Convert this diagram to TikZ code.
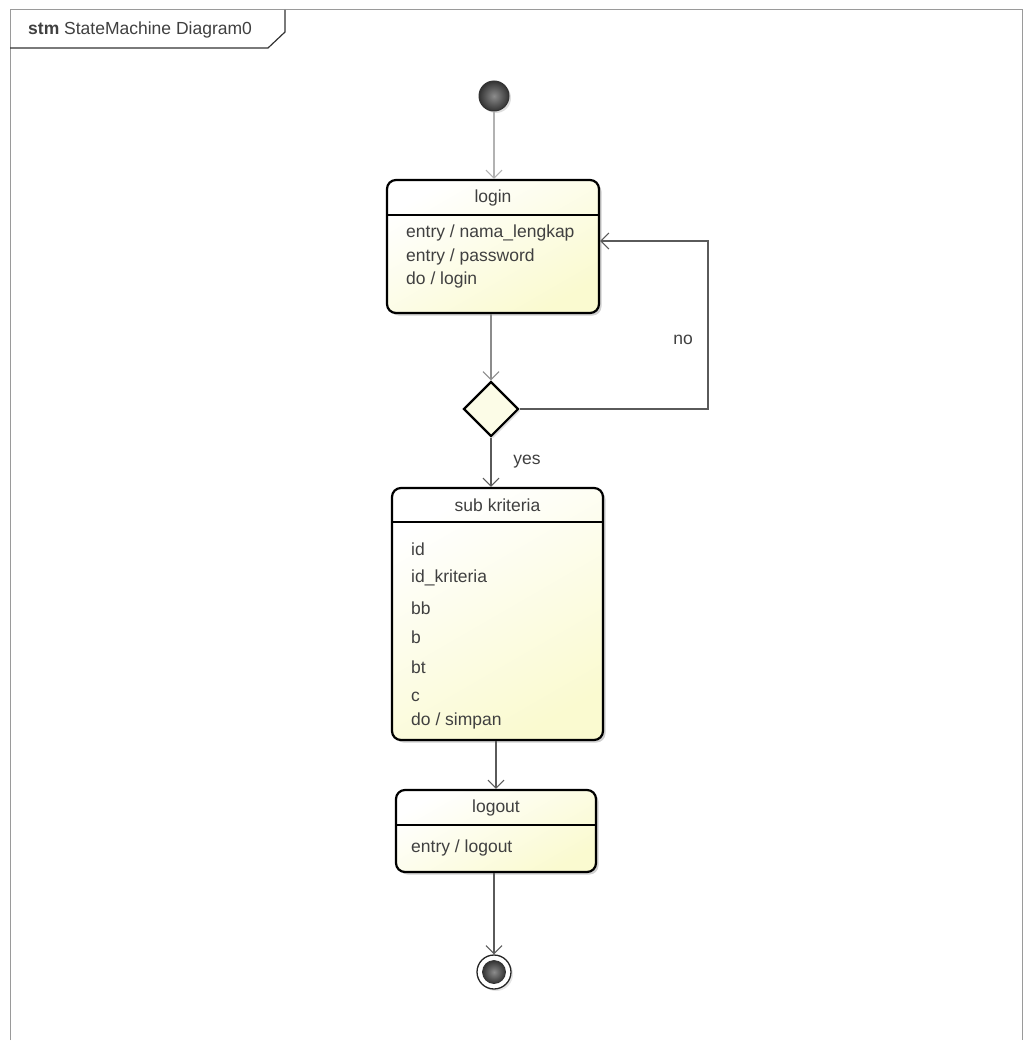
\documentclass[tikz,border=0pt]{standalone}
\usepackage{fontspec}
\setmainfont{Liberation Sans}
\usetikzlibrary{arrows.meta,shapes.geometric,shadows}
\definecolor{ylw}{HTML}{FAFAD0}
\definecolor{framegray}{HTML}{9A9A9A}
\definecolor{linegray}{HTML}{5A5A5A}
\begin{document}
\begin{tikzpicture}[x=1pt,y=-1pt,
  txt/.style={font=\fontsize{17.5}{19}\selectfont, text=black!75, inner sep=0pt},
  statebox/.style={draw=black, line width=2.2pt, rounded corners=9pt,
    top color=white, bottom color=ylw, shading angle=30,
    drop shadow={shadow xshift=2.5pt, shadow yshift=-2.5pt, fill=black!30, opacity=0.6}},
  flow/.style={draw=linegray, line width=1.1pt, -{Straight Barb[length=8pt,width=16pt]}},
  sepline/.style={draw=black, line width=1.1pt}
]
\useasboundingbox (0,0) rectangle (1030,1041);
\fill[white] (0,0) rectangle (1030,1041);
% frame
\draw[framegray, line width=1pt] (10,1040) -- (10,10) -- (1022,10) -- (1022,1040);
\draw[black!80, line width=1.2pt] (10,48) -- (268,48) -- (285,32) -- (285,10);
\node[txt, anchor=west] (title) at (28,30) {\textbf{stm} StateMachine Diagram0};

% initial
\node[circle, minimum size=30pt, inner sep=0pt, draw=black!80, line width=1pt,
  inner color=black!45, outer color=black!80,
  drop shadow={shadow xshift=2pt, shadow yshift=-2pt, fill=black!25}] (init) at (494,96) {};

% login
\node[statebox, minimum width=212pt, minimum height=133pt] (login) at (493,246.5) {};
\draw[sepline] (387,215) -- (599,215);
\node[txt] (logint) at (493,198) {login};
\node[txt, anchor=west] (l1) at (406,233) {entry / nama\_lengkap};
\node[txt, anchor=west] (l2) at (406,257) {entry / password};
\node[txt, anchor=west] (l3) at (406,280) {do / login};

% decision
\node[diamond, draw=black, line width=2.2pt, fill=ylw!50, minimum width=55pt, minimum height=55pt, inner sep=0pt,
  drop shadow={shadow xshift=2pt, shadow yshift=-2pt, fill=black!25}] (dec) at (491,409) {};

% sub kriteria
\node[statebox, minimum width=211pt, minimum height=252pt] (sub) at (497.5,614) {};
\draw[sepline] (392,522) -- (603,522);
\node[txt] (subt) at (497.5,505) {sub kriteria};
\node[txt, anchor=west] (s1) at (411,549) {id};
\node[txt, anchor=west] (s2) at (411,578) {id\_kriteria};
\node[txt, anchor=west] (s3) at (411,608) {bb};
\node[txt, anchor=west] (s4) at (411,637) {b};
\node[txt, anchor=west] (s5) at (411,667) {bt};
\node[txt, anchor=west] (s6) at (411,697) {c};
\node[txt, anchor=west] (s7) at (411,721) {do / simpan};

% logout
\node[statebox, minimum width=200pt, minimum height=82pt] (logout) at (496,831) {};
\draw[sepline] (396,825) -- (596,825);
\node[txt] (logoutt) at (496,808) {logout};
\node[txt, anchor=west] (o1) at (411,848) {entry / logout};

% final
\node[circle, minimum size=34pt, inner sep=0pt, draw=black!85, line width=1.3pt, fill=white,
  drop shadow={shadow xshift=2pt, shadow yshift=-2pt, fill=black!20}] (fin) at (494,972) {};
\node[circle, minimum size=23pt, inner sep=0pt, draw=black!80, line width=0.8pt,
  inner color=black!45, outer color=black!80] (fininner) at (494,972) {};

% transitions
\draw[flow, draw=black!30] (init) -- (login.north -| init);
\draw[flow, draw=black!45] (login.south -| dec) -- (dec.north);
\coordinate (c1) at (708,409);
\coordinate (c2) at (708,241);
\draw[flow] (dec.east) -- (c1) -- (c2) -- (login.east |- c2);
\node[txt] (no) at (683,340) {no};
\draw[flow] (dec.south) -- (dec.south |- sub.north);
\node[txt] (yes) at (527,462) {yes};
\draw[flow] (sub.south -| logout) -- (logout.north);
\draw[flow] (logout.south -| fin) -- (fin.north);
\end{tikzpicture}
\end{document}
